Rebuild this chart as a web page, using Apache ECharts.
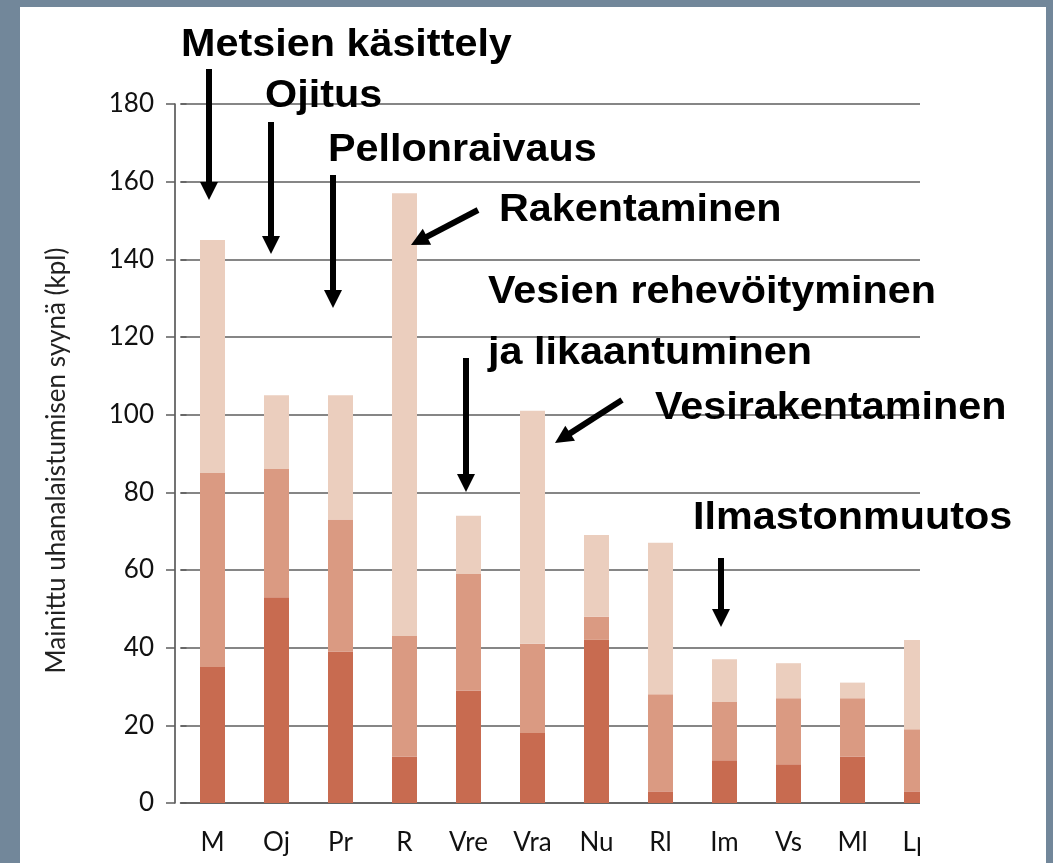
<!DOCTYPE html>
<html>
<head>
<meta charset="utf-8">
<title>Uhanalaistumisen syyt</title>
<script src="https://cdn.jsdelivr.net/npm/echarts@6/dist/echarts.min.js"></script>
<style>
  html, body { margin: 0; padding: 0; background: #72879a; }
  #panel { position: absolute; left: 20px; top: 7px; width: 1026px; height: 856px; background: #fff; }
  #chart { position: absolute; left: 0; top: 0; width: 1053px; height: 863px; }
</style>
</head>
<body>
<div id="panel"></div>
<div id="chart"></div>
<script>
// luokat ja pinottujen pylväiden osat (kpl)
const categories = ['M', 'Oj', 'Pr', 'R', 'Vre', 'Vra', 'Nu', 'Rl', 'Im', 'Vs', 'Ml', 'Lp']
const darkPart = [35, 53, 39, 12, 29, 18, 42, 3, 11, 10, 12, 3]
const middlePart = [50, 33, 34, 31, 30, 23, 6, 25, 15, 17, 15, 16]
const lightPart = [60, 19, 32, 114, 15, 60, 21, 39, 11, 9, 4, 23]
const yMin = 0
const yMax = 180
const yStep = 20
const yName = 'Mainittu uhanalaistumisen syynä (kpl)'

// selitetekstit ja nuolet (pikseleinä)
const notes = [
  { text: 'Metsien käsittely', x: 181, y: 45 },
  { text: 'Ojitus', x: 265, y: 96 },
  { text: 'Pellonraivaus', x: 328, y: 150 },
  { text: 'Rakentaminen', x: 499, y: 210 },
  { text: 'Vesien rehevöityminen', x: 488, y: 292 },
  { text: 'ja likaantuminen', x: 488, y: 353 },
  { text: 'Vesirakentaminen', x: 655, y: 408 },
  { text: 'Ilmastonmuutos', x: 693, y: 518 }
]
const arrows = [
  [209, 69, 209, 200],
  [271, 122, 271, 254],
  [333, 175, 333, 308],
  [478, 210, 411, 245],
  [466, 358, 466, 492],
  [622, 400, 555, 443],
  [721, 558, 721, 627]
]

const chart = echarts.init(document.getElementById('chart'))

function arrowGraphic([x1, y1, x2, y2]) {
  const len = Math.hypot(x2 - x1, y2 - y1)
  const ux = (x2 - x1) / len
  const uy = (y2 - y1) / len
  const headLen = 18
  const halfW = 9
  const bx = x2 - ux * headLen
  const by = y2 - uy * headLen
  return [
    {
      type: 'line',
      z: 110,
      shape: { x1, y1, x2: bx + ux * 2, y2: by + uy * 2 },
      style: { stroke: '#000', lineWidth: 6 }
    },
    {
      type: 'polygon',
      z: 110,
      shape: {
        points: [[x2, y2], [bx - uy * halfW, by + ux * halfW], [bx + uy * halfW, by - ux * halfW]]
      },
      style: { fill: '#000' }
    }
  ]
}

const graphics = [
  // kuvan oikea reuna on rajattu
  { type: 'rect', z: 100, shape: { x: 920, y: 90, width: 126, height: 773 }, style: { fill: '#fff' } }
]
notes.forEach((n) => {
  graphics.push({
    type: 'text',
    z: 110,
    x: n.x,
    y: n.y,
    scaleX: 1.06,
    style: {
      text: n.text,
      fill: '#000',
      font: 'bold 39px "Liberation Sans", Arial, sans-serif',
      align: 'left',
      verticalAlign: 'middle'
    }
  })
})
arrows.forEach((a) => graphics.push(...arrowGraphic(a)))

const labelFont = { color: '#111', fontSize: 26, fontFamily: 'Lato' }
const gridColor = '#5e5e5e'

const option = {
  animation: false,
  grid: { left: 180.5, right: 104.5, top: 104, bottom: 60 },
  xAxis: {
    type: 'category',
    data: categories,
    axisLine: { show: true, lineStyle: { color: gridColor, width: 1.5 } },
    axisTick: { show: false },
    axisLabel: { margin: 27, ...labelFont }
  },
  yAxis: [
    {
      type: 'value',
      min: yMin,
      max: yMax,
      interval: yStep,
      offset: 5.5,
      name: yName,
      nameLocation: 'middle',
      nameGap: 105,
      nameTextStyle: { color: '#222', fontSize: 26, fontFamily: 'Lato', padding: [0, 14, 0, 0] },
      axisLine: { show: true, onZero: false, lineStyle: { color: '#444', width: 1.5 } },
      axisTick: { show: true, length: 9, lineStyle: { color: gridColor, width: 1.5 } },
      splitLine: { show: true, lineStyle: { color: gridColor, width: 1.5 } },
      axisLabel: { margin: 21, ...labelFont }
    },
    {
      // täyttää akselin ja ruudukon välisen raon
      type: 'value',
      min: yMin,
      max: yMax,
      interval: yStep,
      position: 'left',
      offset: 0,
      axisLine: { show: false },
      axisTick: { show: true, inside: true, length: 6, lineStyle: { color: gridColor, width: 1.5 } },
      axisLabel: { show: false },
      splitLine: { show: false }
    }
  ],
  series: [
    { type: 'bar', stack: 'syy', barWidth: 25, data: darkPart, itemStyle: { color: '#c86b50' } },
    { type: 'bar', stack: 'syy', barWidth: 25, data: middlePart, itemStyle: { color: '#da9a82' } },
    { type: 'bar', stack: 'syy', barWidth: 25, data: lightPart, itemStyle: { color: '#ebcebe' } }
  ],
  graphic: graphics
}

chart.setOption(option)
</script>
</body>
</html>
